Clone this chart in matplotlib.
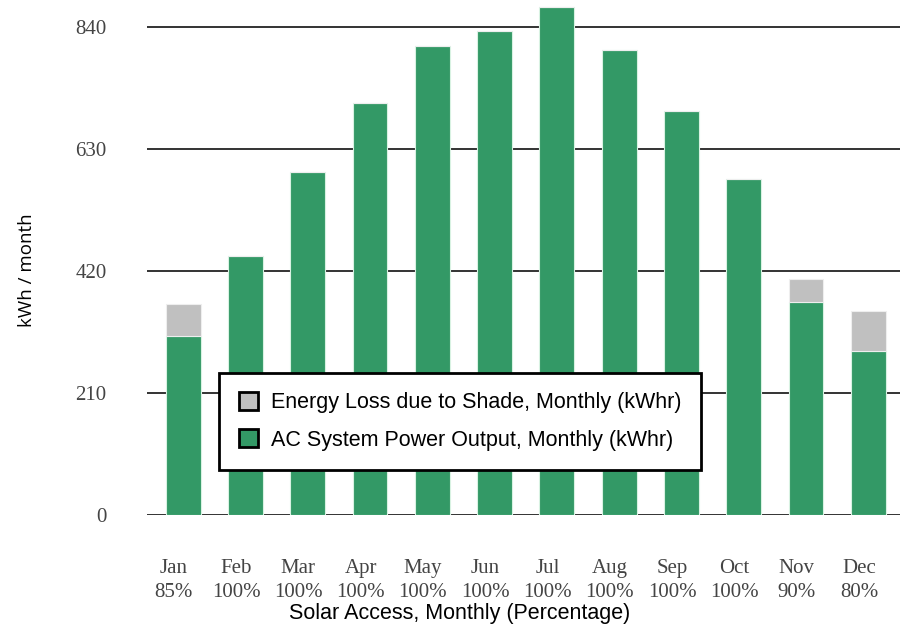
import numpy as np
import matplotlib
matplotlib.use('Agg')
import matplotlib.pyplot as plt
from matplotlib.patches import Patch

# monthly values
months = ['Jan', 'Feb', 'Mar', 'Apr', 'May', 'Jun', 'Jul', 'Aug', 'Sep', 'Oct', 'Nov', 'Dec']
solar_access = ['85%', '100%', '100%', '100%', '100%', '100%', '100%', '100%', '100%', '100%', '90%', '80%']
ac_output = [308, 446, 590, 709, 807, 833, 874, 800, 695, 578, 367, 282]
shade_loss = [55, 0, 0, 0, 0, 0, 0, 0, 0, 0, 39, 69]
yticks = [0, 210, 420, 630, 840]

green = '#339966'
grey = '#c0c0c0'

fig = plt.figure(figsize=(9.19, 6.26), dpi=100)
ax = fig.add_axes([147 / 919, 111 / 626, 753 / 919, 515 / 626])

x = np.arange(len(months))
ax.bar(x, ac_output, width=0.56, color=green, edgecolor='#d8f2e2', linewidth=0.8, zorder=3)
ax.bar(x, shade_loss, width=0.56, bottom=ac_output, color=grey, edgecolor='#eeeeee',
       linewidth=0.8, zorder=3)

ax.set_xlim(-0.58, 11.51)
ax.set_ylim(0, 886)
ax.set_yticks(yticks)
ax.set_yticklabels([str(v) for v in yticks], family='Liberation Serif', fontsize=15, color='#444444')
for v in yticks:
    ax.axhline(v, color='#333333', linewidth=1.4, zorder=2)
ax.tick_params(axis='y', length=0, pad=29)

ax.set_xticks(x - 0.15)
ax.set_xticklabels([m + '\n' + s for m, s in zip(months, solar_access)],
                   family='Liberation Serif', fontsize=15, color='#444444', linespacing=1.3)
ax.tick_params(axis='x', length=0, pad=32)

for s in ax.spines.values():
    s.set_visible(False)

fig.text(460 / 919, 1 - 613 / 626, 'Solar Access, Monthly (Percentage)', ha='center', va='center',
         family='Liberation Sans', fontsize=15.5)
fig.text(27 / 919, 1 - 270 / 626, 'kWh / month', ha='center', va='center', rotation=90,
         family='Open Sans', fontsize=13.5)

handles = [Patch(facecolor=grey, edgecolor='black', linewidth=2),
           Patch(facecolor=green, edgecolor='black', linewidth=2)]
labels = ['Energy Loss due to Shade, Monthly (kWhr)', 'AC System Power Output, Monthly (kWhr)']
leg = ax.legend(handles, labels, loc='lower left', bbox_to_anchor=(0.096, 0.087),
                prop={'family': 'Liberation Sans', 'size': 15.5}, fancybox=False,
                framealpha=1, edgecolor='black', borderaxespad=0, handlelength=0.9,
                handleheight=0.9, handletextpad=0.6, borderpad=0.9, labelspacing=0.75)
leg.get_frame().set_linewidth(2)
leg.set_zorder(5)

plt.savefig('out.png', dpi=100)
